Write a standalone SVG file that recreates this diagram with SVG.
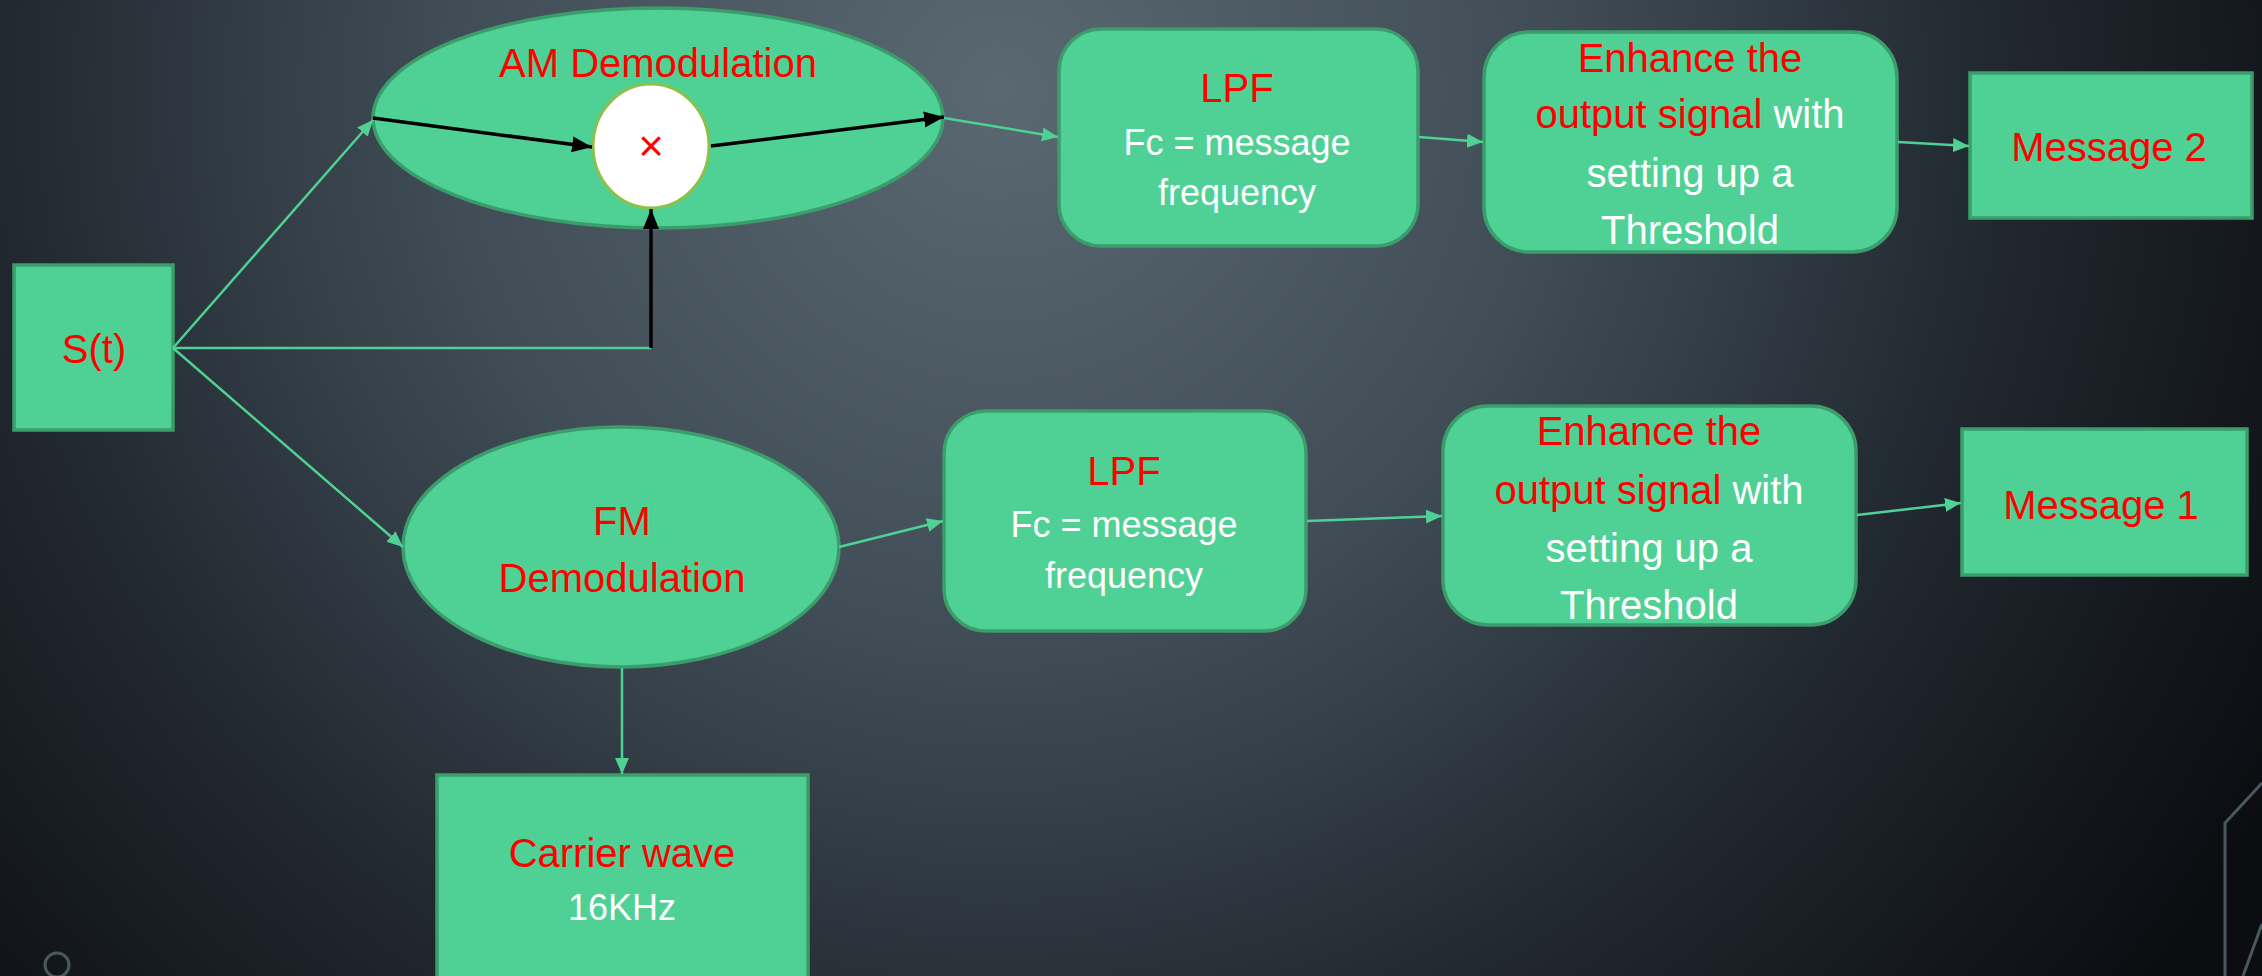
<svg xmlns="http://www.w3.org/2000/svg" width="2262" height="976" viewBox="0 0 2262 976">
<defs>
<radialGradient id="bg" gradientUnits="userSpaceOnUse" cx="1000" cy="90" r="1450">
<stop offset="0" stop-color="#5a6872"/>
<stop offset="0.38" stop-color="#404d56"/>
<stop offset="0.7" stop-color="#20272e"/>
<stop offset="1" stop-color="#0b0d11"/>
</radialGradient>
<marker id="ag" markerUnits="userSpaceOnUse" markerWidth="18" markerHeight="16" refX="16" refY="8" orient="auto">
<path d="M0,1 L16,8 L0,15 Z" fill="#4fd196"/>
</marker>
<marker id="ab" markerUnits="userSpaceOnUse" markerWidth="22" markerHeight="18" refX="20" refY="9" orient="auto">
<path d="M0,1 L20,9 L0,17 Z" fill="#000"/>
</marker>
<style>
.n{fill:#4fd196;stroke:#3c9d6c;stroke-width:3.5}
.r{fill:#ff0000}
.w{fill:#ffffff}
text{font-family:"Liberation Sans",Arial,sans-serif;text-anchor:middle;font-size:40px}
.s{font-size:36px}
.g{stroke:#4fd196;stroke-width:2.5;fill:none}
.k{stroke:#000;stroke-width:3.5;fill:none}
.deco{stroke:#4a5860;stroke-width:3;fill:none}
</style>
</defs>
<rect width="2262" height="976" fill="url(#bg)"/>
<g id="decor">
<circle class="deco" cx="57" cy="965" r="12"/>
<path class="deco" d="M2262,783 L2225,823 L2225,976"/>
<path class="deco" d="M2262,924 L2243,976"/>
</g>
<g id="st">
<rect class="n" x="14" y="265" width="159" height="165"/>
<text class="r" x="94" y="363">S(t)</text>
</g>
<g id="am">
<ellipse class="n" cx="658" cy="118" rx="285" ry="110"/>
<text class="r" x="658" y="77">AM Demodulation</text>
</g>
<g id="mult">
<ellipse cx="651" cy="146" rx="58" ry="62" fill="#ffffff" stroke="#8cc04a" stroke-width="3"/>
<text class="r" x="651" y="161" style="font-size:44px">×</text>
</g>
<g id="lpf1">
<rect class="n" x="1059" y="29" width="359" height="217" rx="42"/>
<text class="r" x="1237" y="102">LPF</text>
<text class="w s" x="1237" y="155">Fc = message</text>
<text class="w s" x="1237" y="205">frequency</text>
</g>
<g id="enh1">
<rect class="n" x="1484" y="32" width="413" height="220" rx="45"/>
<text class="r" x="1690" y="72">Enhance the</text>
<text x="1690" y="128"><tspan class="r">output signal</tspan><tspan class="w"> with</tspan></text>
<text class="w" x="1690" y="187">setting up a</text>
<text class="w" x="1690" y="244">Threshold</text>
</g>
<g id="msg2">
<rect class="n" x="1970" y="73" width="282" height="145"/>
<text class="r" x="2109" y="161">Message 2</text>
</g>
<g id="fm">
<ellipse class="n" cx="621" cy="547" rx="218" ry="120"/>
<text class="r" x="622" y="535">FM</text>
<text class="r" x="622" y="592">Demodulation</text>
</g>
<g id="carrier">
<rect class="n" x="437" y="775" width="371" height="215"/>
<text class="r" x="622" y="867">Carrier wave</text>
<text class="w s" x="622" y="920">16KHz</text>
</g>
<g id="lpf2">
<rect class="n" x="944" y="411" width="362" height="220" rx="42"/>
<text class="r" x="1124" y="485">LPF</text>
<text class="w s" x="1124" y="537">Fc = message</text>
<text class="w s" x="1124" y="588">frequency</text>
</g>
<g id="enh2">
<rect class="n" x="1443" y="406" width="413" height="219" rx="45"/>
<text class="r" x="1649" y="445">Enhance the</text>
<text x="1649" y="504"><tspan class="r">output signal</tspan><tspan class="w"> with</tspan></text>
<text class="w" x="1649" y="562">setting up a</text>
<text class="w" x="1649" y="619">Threshold</text>
</g>
<g id="msg1">
<rect class="n" x="1962" y="429" width="285" height="146"/>
<text class="r" x="2101" y="519">Message 1</text>
</g>
<g id="connectors">
<line class="g" x1="173" y1="348" x2="373" y2="120" marker-end="url(#ag)"/>
<line class="g" x1="173" y1="348" x2="403" y2="547" marker-end="url(#ag)"/>
<line class="g" x1="173" y1="348" x2="651" y2="348"/>
<line class="k" x1="651" y1="348" x2="651" y2="209" marker-end="url(#ab)"/>
<line class="k" x1="373" y1="118" x2="592" y2="147" marker-end="url(#ab)"/>
<line class="k" x1="711" y1="146" x2="944" y2="117" marker-end="url(#ab)"/>
<line class="g" x1="944" y1="118" x2="1058" y2="137" marker-end="url(#ag)"/>
<line class="g" x1="1419" y1="137" x2="1483" y2="142" marker-end="url(#ag)"/>
<line class="g" x1="1898" y1="142" x2="1969" y2="146" marker-end="url(#ag)"/>
<line class="g" x1="839" y1="547" x2="943" y2="521" marker-end="url(#ag)"/>
<line class="g" x1="1307" y1="521" x2="1442" y2="516" marker-end="url(#ag)"/>
<line class="g" x1="1857" y1="515" x2="1961" y2="503" marker-end="url(#ag)"/>
<line class="g" x1="622" y1="668" x2="622" y2="774" marker-end="url(#ag)"/>
</g>
</svg>
